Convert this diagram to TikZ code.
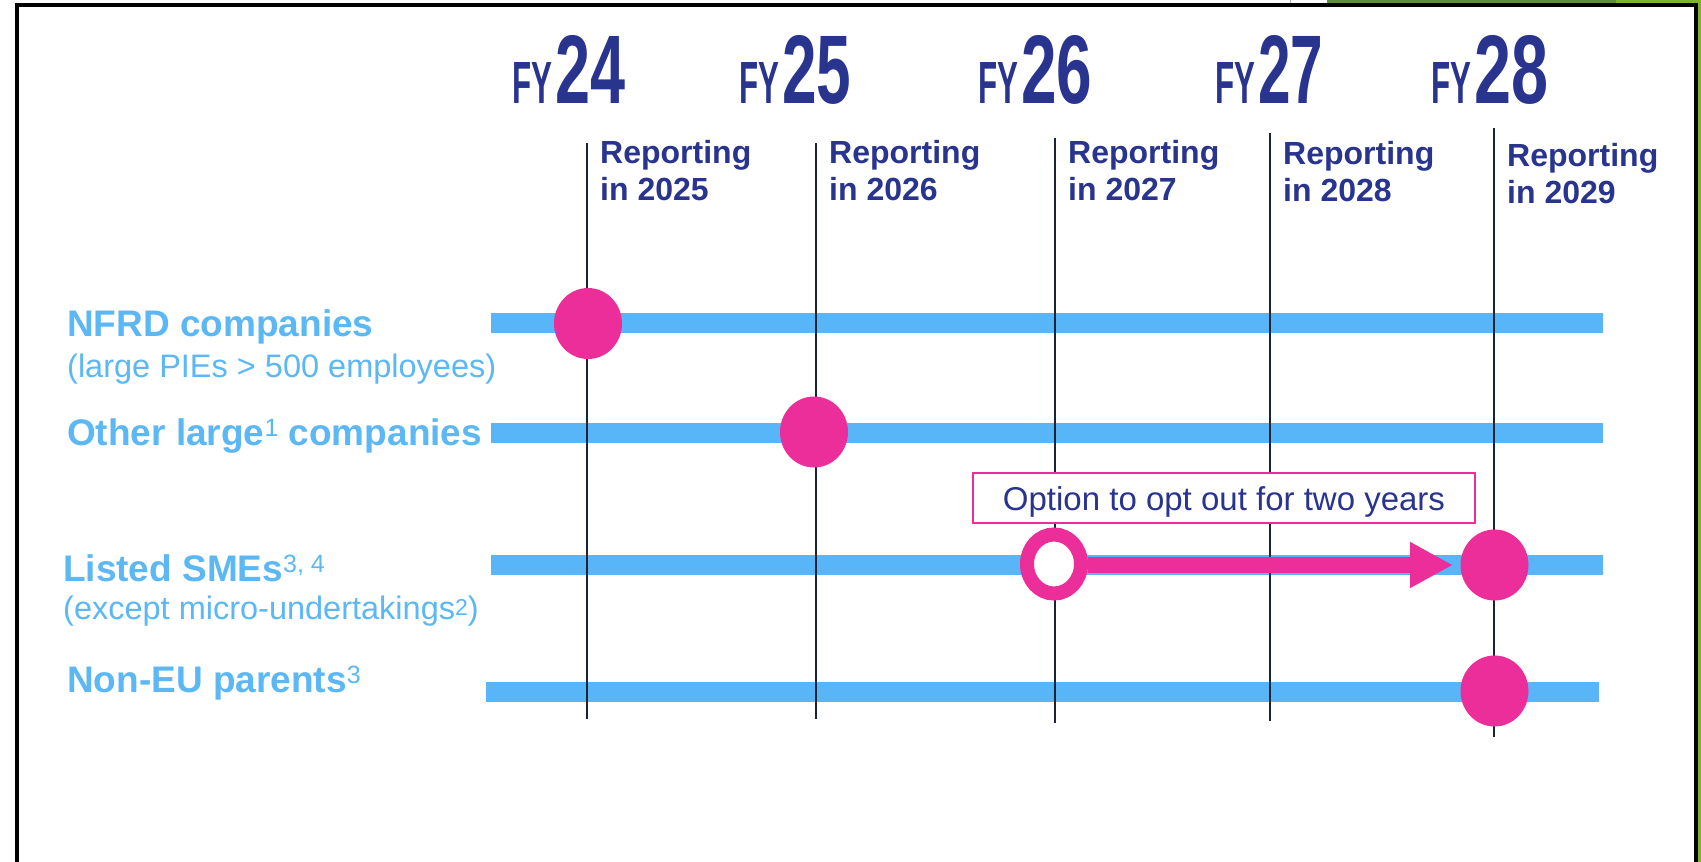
\documentclass[tikz,border=0pt]{standalone}
\usepackage{fontspec}
\setmainfont{Liberation Sans}
\usepackage{graphicx}
\usetikzlibrary{shapes.geometric,arrows.meta}
\definecolor{navy}{HTML}{29348F}
\definecolor{sky}{HTML}{58B6F8}
\definecolor{skytext}{HTML}{5BB8F5}
\definecolor{mag}{HTML}{EC2E9B}
\definecolor{linecol}{HTML}{1B2336}
\definecolor{greenA}{HTML}{5F8F3B}
\definecolor{greenB}{HTML}{7CB32F}
\newcommand\supb[2]{\raisebox{#1}{\fontsize{25}{25}\selectfont\mdseries #2}}
\newcommand\fyl[2]{\resizebox{40pt}{41pt}{FY}\hspace{3pt}\resizebox{#2}{68pt}{#1}}
\tikzset{
  tlbar/.style={draw=sky, line width=20pt},
  yearline/.style={draw=linecol, line width=2.8pt},
  dotnode/.style={ellipse, fill=mag, minimum width=68pt, minimum height=71pt, inner sep=0pt},
  ringnode/.style={ellipse, draw=mag, fill=white, line width=14pt, minimum width=54pt, minimum height=59pt, inner sep=0pt},
  fy/.style={anchor=base west, inner sep=0pt, text=navy, font=\bfseries},
  rep/.style={anchor=base west, inner sep=0pt, text=navy, align=left, font=\fontsize{32}{37}\selectfont\bfseries},
  lab/.style={anchor=base west, inner sep=0pt, text=skytext, font=\fontsize{37}{44}\selectfont\bfseries},
  sublab/.style={anchor=base west, inner sep=0pt, text=skytext, font=\fontsize{32.5}{39}\selectfont},
  optbox/.style={draw=mag, line width=1.5pt, fill=white, text=navy, minimum width=502pt, minimum height=50pt, inner sep=0pt, text height=31pt, text depth=7pt, font=\fontsize{33}{40}\selectfont},
  optarrow/.style={draw=mag, line width=16pt, -{Triangle[length=43pt,width=43pt]}},
}
\begin{document}
\begin{tikzpicture}[x=1pt,y=-1pt]
\useasboundingbox (0,0) rectangle (1701,862);
\fill[white] (0,0) rectangle (1701,862);
% outer frame and green edge
\fill[greenA] (1327,0) rectangle (1616,4);
\fill[greenB] (1616,0) rectangle (1701,4);
\fill[greenB] (1698,0) rectangle (1701,862);
\draw[gray!60, line width=1pt] (1290,0) -- (1290,4);
\draw[line width=4pt] (17,862) -- (17,5) -- (1696,5) -- (1696,862);
% FY headings
\node[fy] (fy24) at (512,103) {\fyl{24}{70pt}};
\node[fy] (fy25) at (739,103) {\fyl{25}{69pt}};
\node[fy] (fy26) at (978,103) {\fyl{26}{71pt}};
\node[fy] (fy27) at (1215,103) {\fyl{27}{65pt}};
\node[fy] (fy28) at (1431,103) {\fyl{28}{74pt}};
% reporting texts (anchor on the second line's baseline)
\node[rep] (r24) at (600,200) {Reporting\\in 2025};
\node[rep] (r25) at (829,200) {Reporting\\in 2026};
\node[rep] (r26) at (1068,200) {Reporting\\in 2027};
\node[rep] (r27) at (1283,201) {Reporting\\in 2028};
\node[rep] (r28) at (1507,203) {Reporting\\in 2029};
% horizontal bars
\draw[tlbar] (491,323) -- (1603,323);
\draw[tlbar] (491,433) -- (1603,433);
\draw[tlbar] (491,564.5) -- (1603,564.5);
\draw[tlbar] (486,692) -- (1599,692);
% year lines
\draw[yearline] (587,143) -- (587,719);
\draw[yearline] (816,143) -- (816,719);
\draw[yearline] (1055,138) -- (1055,723);
\draw[yearline] (1270,133) -- (1270,721);
\draw[yearline] (1494,128) -- (1494,737);
% labels
\node[lab] (l1) at (67,336) {NFRD companies};
\node[sublab] (l1s) at (67,377) {(large PIEs > 500 employees)};
\node[lab] (l2) at (67,445) {Other large\supb{8.5pt}{1} companies};
\node[lab] (l3) at (63,581) {Listed SMEs\supb{9pt}{3, 4}};
\node[sublab] (l3s) at (63,619) {(except micro-undertakings\raisebox{4pt}{\fontsize{23}{23}\selectfont 2})};
\node[lab] (l4) at (67,692) {Non-EU parents\supb{8.5pt}{3}};
% option box
\node[optbox] (opt) at (1224,498) {Option to opt out for two years};
% markers
\node[dotnode] (c1) at (588,323.5) {};
\node[dotnode] (c2) at (814,432) {};
\node[ringnode] (ring) at (1054,564) {};
\node[dotnode] (c3) at (1494.5,565) {};
\node[dotnode] (c4) at (1494.5,691) {};
\coordinate (tip) at (1453,565);
\draw[optarrow] (ring.east |- tip) -- (tip);
\end{tikzpicture}
\end{document}
